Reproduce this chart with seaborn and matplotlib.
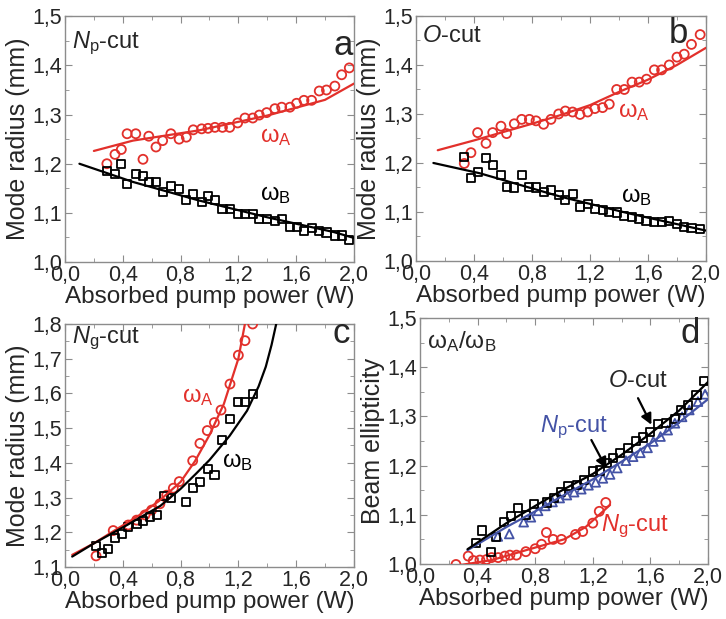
import numpy as np
import pandas as pd
import seaborn as sns
import matplotlib.pyplot as plt
from matplotlib.ticker import MultipleLocator, FuncFormatter

RED = "#e2302b"
BLUE = "#4453a6"

# ---- panel a: Np-cut ----
a_x = [0.29, 0.346, 0.39, 0.43, 0.49, 0.54, 0.58, 0.63, 0.676, 0.733, 0.79, 0.84, 0.888,
       0.946, 0.99, 1.038, 1.09, 1.14, 1.195, 1.246, 1.30, 1.345, 1.396, 1.453, 1.50,
       1.557, 1.603, 1.654, 1.707, 1.76, 1.81, 1.868, 1.915, 1.968]
a_wA = [1.200, 1.219, 1.229, 1.261, 1.261, 1.209, 1.256, 1.234, 1.247, 1.261, 1.250, 1.254,
        1.269, 1.271, 1.272, 1.274, 1.274, 1.274, 1.283, 1.293, 1.293, 1.299, 1.304, 1.312,
        1.315, 1.315, 1.323, 1.329, 1.329, 1.348, 1.350, 1.358, 1.381, 1.395]
a_wB = [1.186, 1.180, 1.200, 1.159, 1.180, 1.175, 1.163, 1.163, 1.142, 1.154, 1.149, 1.127,
        1.139, 1.122, 1.135, 1.127, 1.108, 1.108, 1.098, 1.098, 1.098, 1.088, 1.088, 1.083,
        1.087, 1.072, 1.072, 1.064, 1.069, 1.064, 1.060, 1.054, 1.054, 1.044]
a_fitA_x = [0.2, 0.47, 0.93, 1.4, 1.8, 2.0]
a_fitA_y = [1.226, 1.247, 1.268, 1.298, 1.330, 1.363]
a_fitB_x = [0.1, 0.47, 0.93, 1.4, 1.86, 2.0]
a_fitB_y = [1.200, 1.163, 1.125, 1.091, 1.061, 1.049]

# ---- panel b: O-cut ----
b_x = [0.333, 0.379, 0.425, 0.483, 0.529, 0.586, 0.625, 0.678, 0.729, 0.782, 0.828, 0.88,
       0.931, 0.984, 1.03, 1.08, 1.131, 1.184, 1.234, 1.287, 1.333, 1.384, 1.437, 1.49,
       1.54, 1.59, 1.644, 1.694, 1.747, 1.80, 1.85, 1.90, 1.96]
b_wA = [1.199, 1.221, 1.262, 1.240, 1.262, 1.275, 1.260, 1.280, 1.289, 1.289, 1.286, 1.279,
        1.289, 1.300, 1.306, 1.304, 1.299, 1.304, 1.311, 1.313, 1.320, 1.350, 1.350, 1.365,
        1.365, 1.371, 1.390, 1.390, 1.400, 1.416, 1.422, 1.442, 1.462]
b_wB = [1.212, 1.170, 1.181, 1.210, 1.196, 1.175, 1.151, 1.150, 1.175, 1.151, 1.150, 1.140,
        1.145, 1.135, 1.124, 1.136, 1.110, 1.116, 1.106, 1.104, 1.100, 1.099, 1.092, 1.090,
        1.086, 1.082, 1.080, 1.079, 1.082, 1.075, 1.070, 1.067, 1.065]
b_fitA_x = [0.15, 0.4, 0.6, 0.8, 1.0, 1.2, 1.4, 1.6, 1.8, 2.0]
b_fitA_y = [1.226, 1.246, 1.263, 1.280, 1.298, 1.318, 1.345, 1.370, 1.400, 1.435]
b_fitB_x = [0.12, 0.44, 1.0, 1.47, 2.0]
b_fitB_y = [1.200, 1.179, 1.131, 1.097, 1.062]

# ---- panel c: Ng-cut ----
c_xA = [0.215, 0.334, 0.438, 0.496, 0.554, 0.60, 0.657, 0.704, 0.75, 0.791, 0.884, 0.934,
        0.985, 1.034, 1.08, 1.142, 1.20, 1.246, 1.299]
c_wA = [1.132, 1.205, 1.221, 1.235, 1.250, 1.264, 1.282, 1.307, 1.327, 1.346, 1.406, 1.456,
        1.493, 1.516, 1.552, 1.627, 1.710, 1.752, 1.800]
c_xB = [0.215, 0.254, 0.30, 0.346, 0.392, 0.438, 0.496, 0.542, 0.588, 0.635, 0.685, 0.734,
        0.837, 0.886, 0.937, 0.988, 1.035, 1.084, 1.142, 1.20, 1.246, 1.299]
c_wB = [1.161, 1.141, 1.152, 1.184, 1.195, 1.214, 1.224, 1.233, 1.243, 1.250, 1.305, 1.298,
        1.286, 1.327, 1.346, 1.381, 1.366, 1.466, 1.526, 1.576, 1.576, 1.598]
c_fitA_x = [0.05, 0.2, 0.35, 0.5, 0.65, 0.8, 0.9, 1.0, 1.1, 1.2, 1.25]
c_fitA_y = [1.135, 1.168, 1.207, 1.245, 1.290, 1.345, 1.405, 1.480, 1.570, 1.700, 1.810]
c_fitB_x = [0.05, 0.2, 0.43, 0.66, 0.8, 0.91, 1.0, 1.14, 1.26, 1.34, 1.39, 1.43, 1.47]
c_fitB_y = [1.130, 1.168, 1.221, 1.276, 1.325, 1.370, 1.408, 1.478, 1.550, 1.620, 1.677, 1.740, 1.815]

# ---- panel d: ellipticity ----
d_xO = [0.39, 0.43, 0.49, 0.53, 0.585, 0.63, 0.68, 0.735, 0.79, 0.88, 0.93, 0.98, 1.03,
        1.09, 1.14, 1.20, 1.25, 1.30, 1.34, 1.39, 1.445, 1.50, 1.55, 1.60, 1.65, 1.71,
        1.77, 1.81, 1.86, 1.92, 1.97]
d_O = [1.043, 1.068, 1.025, 1.054, 1.086, 1.098, 1.114, 1.100, 1.122, 1.125, 1.135, 1.147,
       1.159, 1.160, 1.171, 1.188, 1.190, 1.205, 1.215, 1.226, 1.236, 1.250, 1.257, 1.268,
       1.284, 1.286, 1.295, 1.313, 1.323, 1.344, 1.371]
d_xNp = [0.54, 0.62, 0.72, 0.77, 0.82, 0.87, 0.92, 0.97, 1.02, 1.07, 1.12, 1.17, 1.22, 1.27,
         1.32, 1.37, 1.43, 1.48, 1.53, 1.58, 1.62, 1.67, 1.72, 1.77, 1.82, 1.87, 1.93, 1.98]
d_Np = [1.056, 1.061, 1.085, 1.095, 1.108, 1.118, 1.126, 1.134, 1.140, 1.146, 1.152, 1.160,
        1.166, 1.174, 1.182, 1.195, 1.210, 1.218, 1.226, 1.236, 1.249, 1.259, 1.272, 1.286,
        1.299, 1.313, 1.330, 1.345]
d_xNg = [0.25, 0.335, 0.37, 0.416, 0.462, 0.497, 0.543, 0.589, 0.624, 0.67, 0.735, 0.80,
         0.844, 0.878, 0.925, 0.982, 1.08, 1.13, 1.20, 1.245, 1.29]
d_Ng = [0.999, 1.016, 1.007, 1.008, 1.009, 1.013, 1.013, 1.016, 1.018, 1.018, 1.025, 1.031,
        1.040, 1.064, 1.050, 1.050, 1.060, 1.066, 1.083, 1.107, 1.125]
d_fitO_x = [0.33, 0.6, 0.8, 1.0, 1.2, 1.4, 1.6, 1.8, 2.0]
d_fitO_y = [1.030, 1.083, 1.118, 1.152, 1.183, 1.222, 1.265, 1.312, 1.370]
d_fitNp_x = [0.33, 0.6, 0.8, 1.0, 1.2, 1.4, 1.6, 1.8, 2.0]
d_fitNp_y = [1.028, 1.075, 1.107, 1.140, 1.172, 1.208, 1.245, 1.288, 1.335]
d_fitNg_x = [0.22, 0.5, 0.76, 1.0, 1.15, 1.32]
d_fitNg_y = [0.995, 1.008, 1.030, 1.050, 1.075, 1.120]

sns.set_style("ticks")
plt.rcParams["font.family"] = ["Liberation Sans", "DejaVu Sans"]
plt.rcParams["mathtext.fontset"] = "custom"
plt.rcParams["mathtext.rm"] = "Liberation Sans"
plt.rcParams["mathtext.it"] = "Liberation Sans:italic"
plt.rcParams["mathtext.bf"] = "Liberation Sans:bold"

fig = plt.figure(figsize=(7.26, 6.19), dpi=100)
ax_a = fig.add_axes([0.0895, 0.5767, 0.398, 0.397])
ax_b = fig.add_axes([0.573, 0.5784, 0.3994, 0.3958])
ax_c = fig.add_axes([0.0895, 0.084, 0.398, 0.3926])
ax_d = fig.add_axes([0.5785, 0.0889, 0.3967, 0.3974])

comma = FuncFormatter(lambda v, p: f"{v:.1f}".replace(".", ","))
GRAY = "#8c8c8c"


def pts(ax, x, y, color, marker, s):
    sns.scatterplot(x=x, y=y, ax=ax, marker=marker, s=s, facecolors="none",
                    edgecolor=color, linewidth=1.3, zorder=3)


def fit(ax, x, y, color):
    sns.lineplot(x=x, y=y, ax=ax, color=color, lw=1.6, zorder=4)


def style(ax, ylo, yhi, ylabel):
    ax.set_xlim(0, 2.0)
    ax.set_ylim(ylo, yhi)
    ax.xaxis.set_major_locator(MultipleLocator(0.4))
    ax.xaxis.set_minor_locator(MultipleLocator(0.2))
    ax.yaxis.set_major_locator(MultipleLocator(0.1))
    ax.yaxis.set_minor_locator(MultipleLocator(0.05))
    ax.xaxis.set_major_formatter(comma)
    ax.yaxis.set_major_formatter(comma)
    ax.tick_params(which="both", direction="in", top=True, right=True,
                   color=GRAY, labelsize=15.5, pad=2)
    ax.tick_params(which="major", length=5)
    ax.tick_params(which="minor", length=3)
    for sp in ax.spines.values():
        sp.set_color(GRAY)
        sp.set_linewidth(1.0)
    ax.set_xlabel("Absorbed pump power (W)", fontsize=17.5, labelpad=0)
    ax.set_ylabel(ylabel, fontsize=18, labelpad=2)


# panel a
pts(ax_a, a_x, a_wA, RED, "o", 42)
pts(ax_a, a_x, a_wB, "k", "s", 34)
fit(ax_a, a_fitA_x, a_fitA_y, RED)
fit(ax_a, a_fitB_x, a_fitB_y, "k")
style(ax_a, 1.0, 1.5, "Mode radius (mm)")
ax_a.text(0.023, 0.87, r"$N_\mathrm{p}$-cut", transform=ax_a.transAxes, fontsize=17, va="baseline")
ax_a.text(0.997, 0.842, "a", transform=ax_a.transAxes, fontsize=25, ha="right", va="baseline")
ax_a.text(1.35, 1.245, r"$\mathrm{\omega}_\mathrm{A}$", color=RED, fontsize=17, va="baseline")
ax_a.text(1.35, 1.126, r"$\mathrm{\omega}_\mathrm{B}$", color="k", fontsize=17, va="baseline")

# panel b
pts(ax_b, b_x, b_wA, RED, "o", 42)
pts(ax_b, b_x, b_wB, "k", "s", 34)
fit(ax_b, b_fitA_x, b_fitA_y, RED)
fit(ax_b, b_fitB_x, b_fitB_y, "k")
style(ax_b, 1.0, 1.5, "Mode radius (mm)")
ax_b.text(0.022, 0.895, r"$O$-cut", transform=ax_b.transAxes, fontsize=17, va="baseline")
ax_b.text(0.94, 0.89, "b", transform=ax_b.transAxes, fontsize=25, ha="right", va="baseline")
ax_b.text(1.393, 1.294, r"$\mathrm{\omega}_\mathrm{A}$", color=RED, fontsize=17, va="baseline")
ax_b.text(1.416, 1.121, r"$\mathrm{\omega}_\mathrm{B}$", color="k", fontsize=17, va="baseline")

# panel c
pts(ax_c, c_xA, c_wA, RED, "o", 42)
pts(ax_c, c_xB, c_wB, "k", "s", 34)
fit(ax_c, c_fitA_x, c_fitA_y, RED)
fit(ax_c, c_fitB_x, c_fitB_y, "k")
style(ax_c, 1.1, 1.8, "Mode radius (mm)")
ax_c.text(0.023, 0.92, r"$N_\mathrm{g}$-cut", transform=ax_c.transAxes, fontsize=17, va="baseline")
ax_c.text(0.986, 0.92, "c", transform=ax_c.transAxes, fontsize=25, ha="right", va="baseline")
ax_c.text(0.808, 1.576, r"$\mathrm{\omega}_\mathrm{A}$", color=RED, fontsize=17, va="baseline")
ax_c.text(1.084, 1.389, r"$\mathrm{\omega}_\mathrm{B}$", color="k", fontsize=17, va="baseline")

# panel d
pts(ax_d, d_xNg, d_Ng, RED, "o", 42)
pts(ax_d, d_xNp, d_Np, BLUE, "^", 40)
pts(ax_d, d_xO, d_O, "k", "s", 34)
fit(ax_d, d_fitNg_x, d_fitNg_y, RED)
fit(ax_d, d_fitNp_x, d_fitNp_y, BLUE)
fit(ax_d, d_fitO_x, d_fitO_y, "k")
style(ax_d, 1.0, 1.5, "Beam ellipticity")
ax_d.text(0.023, 0.877, r"$\mathrm{\omega}_\mathrm{A}/\mathrm{\omega}_\mathrm{B}$",
          transform=ax_d.transAxes, fontsize=17.5, va="baseline")
ax_d.text(0.972, 0.897, "d", transform=ax_d.transAxes, fontsize=25, ha="right", va="baseline")
ax_d.text(1.304, 1.36, r"$O$-cut", fontsize=17, va="baseline")
ax_d.text(0.83, 1.269, r"$N_\mathrm{p}$-cut", color=BLUE, fontsize=17, va="baseline")
ax_d.text(1.257, 1.066, r"$N_\mathrm{g}$-cut", color=RED, fontsize=17, va="baseline")
arrow = dict(arrowstyle="-|>", color="k", lw=1.6, mutation_scale=16, shrinkA=0, shrinkB=0)
ax_d.annotate("", xy=(1.295, 1.194), xytext=(1.19, 1.252), arrowprops=arrow, zorder=5)
ax_d.annotate("", xy=(1.607, 1.283), xytext=(1.514, 1.337), arrowprops=arrow, zorder=5)

fig.savefig("out.png", dpi=100)
